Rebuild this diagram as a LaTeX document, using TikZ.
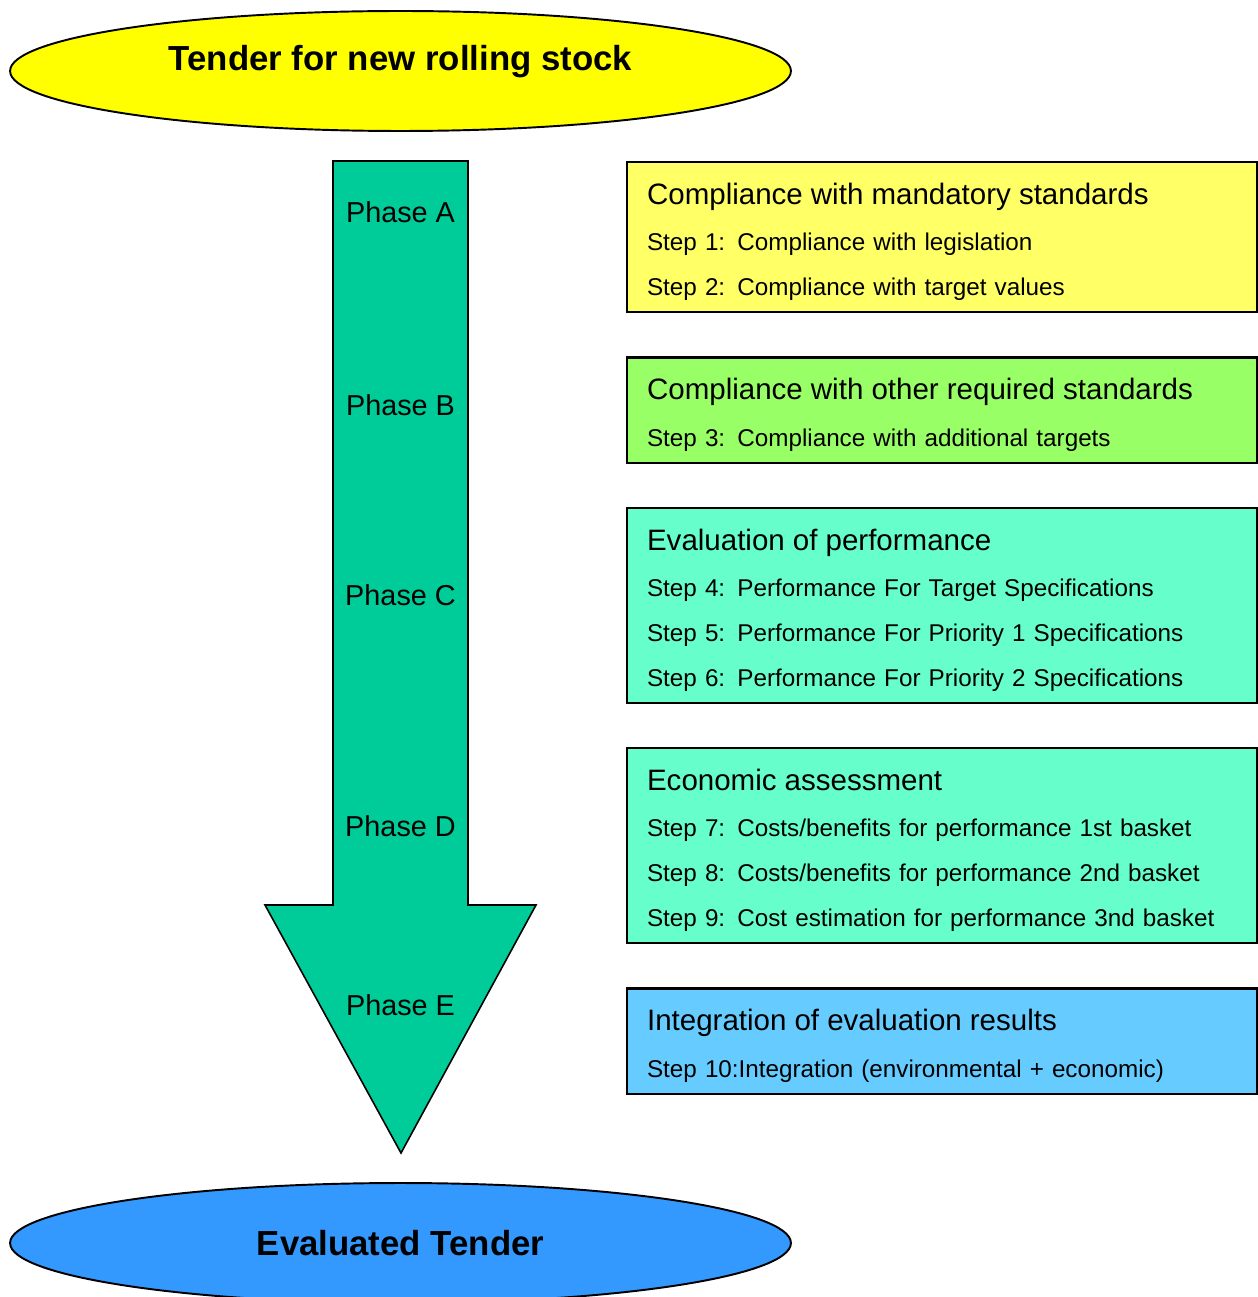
\documentclass[tikz,border=0pt]{standalone}
\usepackage{fontspec}
\setmainfont{Liberation Sans}
\usepackage{tikz}
\usetikzlibrary{positioning, shapes.geometric}
\definecolor{TenderYellow}{HTML}{FFFF00}
\definecolor{TenderBlue}{HTML}{3399FF}
\definecolor{PhaseGreen}{HTML}{00CC99}
\definecolor{StepYellow}{HTML}{FFFF66}
\definecolor{StepGreen}{HTML}{99FF66}
\definecolor{StepMint}{HTML}{66FFCC}
\definecolor{StepBlue}{HTML}{66CCFF}
\newcommand{\boxtitle}[1]{\rule{0pt}{24.1pt}{\fontsize{16.8}{20}\selectfont #1}\\[0.85pt]}
\newcommand{\laststep}[1]{#1\rule[-9.6pt]{0pt}{9.6pt}}

\begin{document}
\begin{tikzpicture}[
    x=0.02cm, y=-0.02cm,
    goal/.style={
      ellipse, draw, line width=1.1pt, minimum width=15.62cm, minimum height=2.4cm,
      inner sep=0pt, font=\fontsize{19.8}{24}\selectfont\bfseries
    },
    stepbox/.style={
      draw, line width=1.2pt, text width=11.8cm, inner xsep=0.4cm, inner ysep=0pt,
      align=left, font=\fontsize{13.8}{25.5}\selectfont
    },
    phase/.style={font=\fontsize{16.4}{20}\selectfont}
  ]
    \useasboundingbox (0,0) rectangle (1257,1297);

    % start and end of the evaluation
    \node[goal, fill=TenderYellow, text height=14pt, text depth=15pt] (tender) at (400.5,71)
      {Tender for new rolling stock};
    \node[goal, fill=TenderBlue] (evaluated) at (400.5,1243) {Evaluated Tender};

    % the big arrow with its phases
    \draw[fill=PhaseGreen, line width=0.9pt, line join=miter]
      (333,161) -- (468,161) -- (468,905) -- (536,905) -- (401,1153)
      -- (265,905) -- (333,905) -- cycle;
    \node[phase] (pa) at (400.5,212) {Phase A};
    \node[phase] (pb) at (400.5,405) {Phase B};
    \node[phase] (pc) at (400.5,595) {Phase C};
    \node[phase] (pd) at (400.5,826) {Phase D};
    \node[phase] (pe) at (400.5,1005) {Phase E};

    % the steps
    \node[stepbox, fill=StepYellow, anchor=north west] (b1) at (626,161) {
      \boxtitle{Compliance with mandatory standards}
      Step 1: Compliance with legislation\\
      \laststep{Step 2: Compliance with target values}
    };
    \node[stepbox, fill=StepGreen, below=0.86cm of b1] (b2) {
      \boxtitle{Compliance with other required standards}
      \laststep{Step 3: Compliance with additional targets}
    };
    \node[stepbox, fill=StepMint, below=0.86cm of b2] (b3) {
      \boxtitle{Evaluation of performance}
      Step 4: Performance For Target Specifications\\
      Step 5: Performance For Priority 1 Specifications\\
      \laststep{Step 6: Performance For Priority 2 Specifications}
    };
    \node[stepbox, fill=StepMint, below=0.86cm of b3] (b4) {
      \boxtitle{Economic assessment}
      Step 7: Costs/benefits for performance 1st basket\\
      Step 8: Costs/benefits for performance 2nd basket\\
      \laststep{Step 9: Cost estimation for performance 3nd basket}
    };
    \node[stepbox, fill=StepBlue, below=0.86cm of b4] (b5) {
      \boxtitle{Integration of evaluation results}
      \laststep{Step 10:Integration (environmental + economic)}
    };
  \end{tikzpicture}
\end{document}
